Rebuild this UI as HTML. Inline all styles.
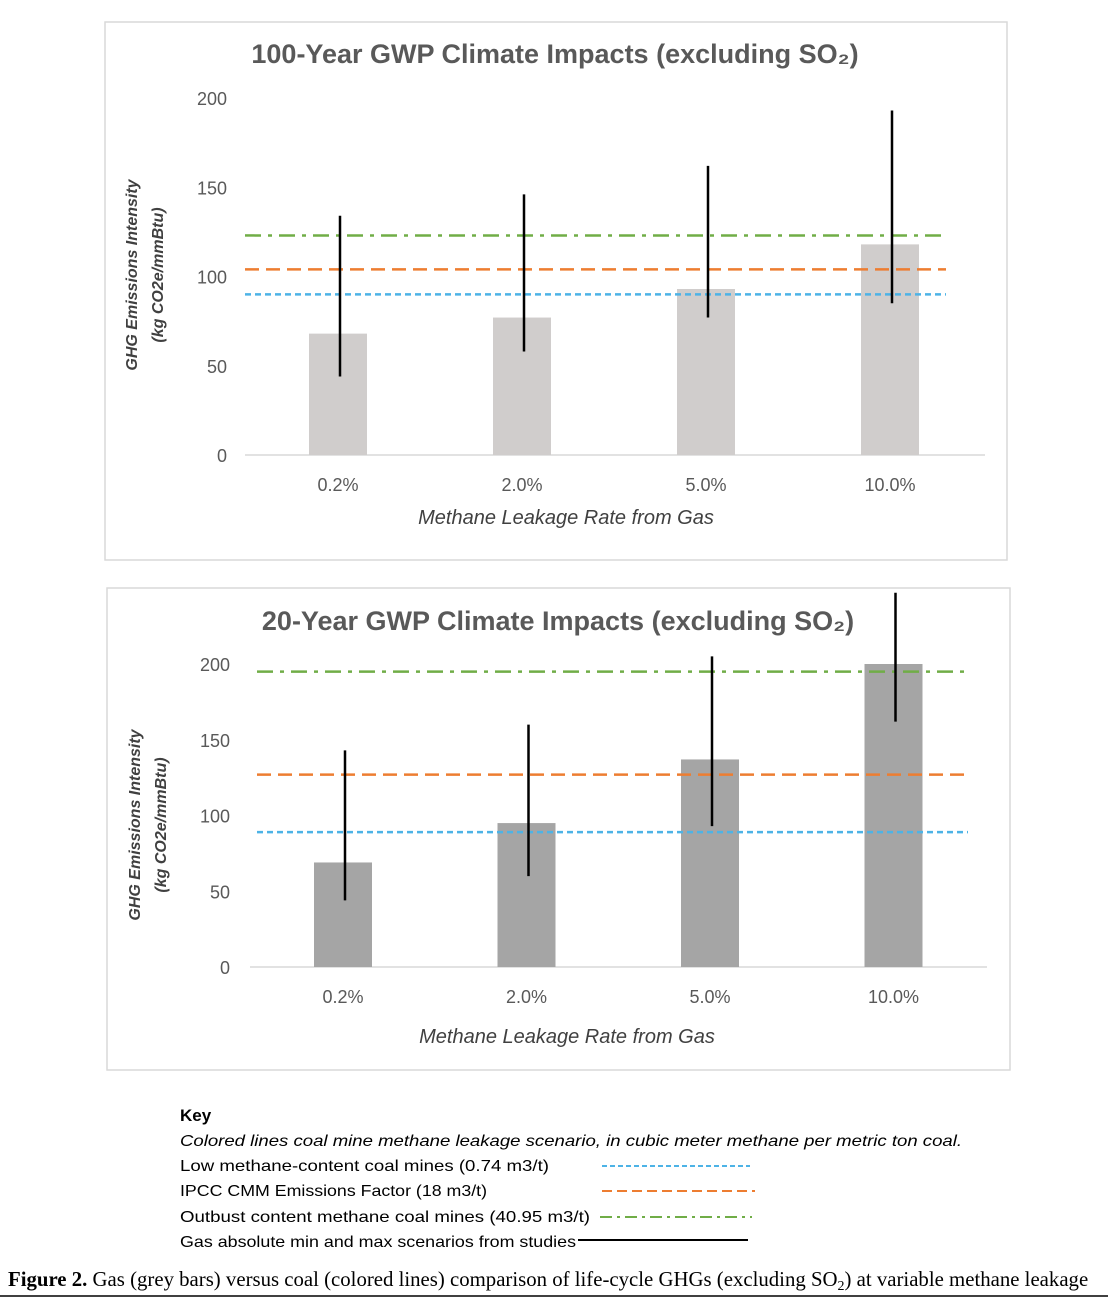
<!DOCTYPE html>
<html><head><meta charset="utf-8"><style>
body{margin:0;background:#fff;width:1108px;height:1298px;overflow:hidden;font-family:"Liberation Sans",sans-serif}
svg{display:block}
</style></head><body>
<svg id="fig" width="1108" height="1298" xmlns="http://www.w3.org/2000/svg">
<rect x="105" y="22" width="902" height="538" fill="#fff" stroke="#d9d9d9" stroke-width="1.5"/>
<rect x="107" y="588" width="903" height="482" fill="#fff" stroke="#d9d9d9" stroke-width="1.5"/>
<text x="555" y="63" text-anchor="middle" font-size="27" font-weight="bold" fill="#595959">100-Year GWP Climate Impacts (excluding SO₂)</text>
<text x="558" y="630" text-anchor="middle" font-size="27" font-weight="bold" fill="#595959">20-Year GWP Climate Impacts (excluding SO₂)</text>
<text x="566" y="524" text-anchor="middle" font-size="20" font-style="italic" fill="#404040">Methane Leakage Rate from Gas</text>
<text x="567" y="1043" text-anchor="middle" font-size="20" font-style="italic" fill="#404040">Methane Leakage Rate from Gas</text>
<text transform="translate(137,275) rotate(-90)" text-anchor="middle" font-size="16" font-weight="bold" font-style="italic" fill="#404040"><tspan x="0" dy="0">GHG Emissions Intensity</tspan><tspan x="0" dy="26">(kg CO2e/mmBtu)</tspan></text>
<text transform="translate(140,825) rotate(-90)" text-anchor="middle" font-size="16" font-weight="bold" font-style="italic" fill="#404040"><tspan x="0" dy="0">GHG Emissions Intensity</tspan><tspan x="0" dy="26">(kg CO2e/mmBtu)</tspan></text>
<g id="top"></g>
<g id="bot"></g>
<g font-size="16" fill="#000">
<text x="180" y="1121" font-size="17" font-weight="bold">Key</text>
<text x="180" y="1146" font-style="italic" textLength="782" lengthAdjust="spacingAndGlyphs">Colored lines coal mine methane leakage scenario, in cubic meter methane per metric ton coal.</text>
<text x="180" y="1171" textLength="369" lengthAdjust="spacingAndGlyphs">Low methane-content coal mines (0.74 m3/t)</text>
<text x="180" y="1196" textLength="307" lengthAdjust="spacingAndGlyphs">IPCC CMM Emissions Factor (18 m3/t)</text>
<text x="180" y="1222" textLength="410" lengthAdjust="spacingAndGlyphs">Outbust content methane coal mines (40.95 m3/t)</text>
<text x="180" y="1247" textLength="396" lengthAdjust="spacingAndGlyphs">Gas absolute min and max scenarios from studies</text>
<line x1="602" y1="1166" x2="750" y2="1166" stroke="#4db3e6" stroke-width="2" stroke-dasharray="5,3"/>
<line x1="602" y1="1191" x2="755" y2="1191" stroke="#ed7d31" stroke-width="2" stroke-dasharray="10,5"/>
<line x1="600" y1="1217" x2="752" y2="1217" stroke="#70ad47" stroke-width="2" stroke-dasharray="12,5,3,5"/>
<line x1="578" y1="1240" x2="748" y2="1240" stroke="#000" stroke-width="2"/>
</g>
<text x="8" y="1286" font-family="Liberation Serif,serif" font-size="20.8" fill="#000"><tspan font-weight="bold">Figure 2.</tspan> Gas (grey bars) versus coal (colored lines) comparison of life-cycle GHGs (excluding SO<tspan font-size="14" dy="4">2</tspan><tspan dy="-4">) at variable methane leakage</tspan></text>
<line x1="0" y1="1296" x2="1108" y2="1296" stroke="#000" stroke-width="1.5"/>
</svg>
<script>
const categories=["0.2%","2.0%","5.0%","10.0%"];
const yTicks=[0,50,100,150,200];
const gwp100Bars=[68,77,93,118];
const gwp100Min=[44,58,77,85];
const gwp100Max=[134,146,162,193];
const gwp100Lines=[90,104,123];
const gwp20Bars=[69,95,137,200];
const gwp20Min=[44,60,93,162];
const gwp20Max=[143,160,205,247];
const gwp20Lines=[89,127,195];
const NS="http://www.w3.org/2000/svg";
function mk(g,tag,a){const e=document.createElementNS(NS,tag);for(const k in a)e.setAttribute(k,a[k]);g.appendChild(e);return e;}
function draw(id,cfg){
 const g=document.getElementById(id);
 const y=v=>cfg.y0-v*cfg.ys;
 const x=i=>cfg.x0+i*cfg.dx;
 yTicks.forEach(t=>{const e=mk(g,"text",{x:cfg.tx,y:y(t)+7,"text-anchor":"end","font-size":18,fill:"#595959"});e.textContent=t;
  
  });
 const ax=mk(g,"line",{x1:cfg.ax1,x2:cfg.ax2,y1:cfg.y0,y2:cfg.y0,stroke:"#d9d9d9","stroke-width":1.5});
 
 
 categories.forEach((c,i)=>{
  const b=mk(g,"rect",{x:x(i)-29,y:y(cfg.bars[i]),width:58,height:cfg.bars[i]*cfg.ys,fill:cfg.fill});
  
  
  const t=mk(g,"text",{x:x(i),y:cfg.y0+36,"text-anchor":"middle","font-size":18,fill:"#595959"});t.textContent=c;
  
  
 });
 const styles=[["#4db3e6","6,4"],["#ed7d31","14,7"],["#70ad47","16,7,4,7"]];
 cfg.lines.forEach((v,i)=>{const l=mk(g,"line",{x1:cfg.l1,x2:cfg.l2,y1:y(v),y2:y(v),stroke:styles[i][0],"stroke-width":2.5,"stroke-dasharray":styles[i][1]});
  
  });
 categories.forEach((c,i)=>{const e=mk(g,"line",{x1:x(i)+2,x2:x(i)+2,y1:y(cfg.mx[i]),y2:y(cfg.mn[i]),stroke:"#000","stroke-width":2.5});
  
  });
}
draw("top",{y0:455,ys:1.785,x0:338,dx:184,tx:227,ax1:245,ax2:985,l1:245,l2:946,bars:gwp100Bars,mn:gwp100Min,mx:gwp100Max,lines:gwp100Lines,fill:"#d0cdcc"});
draw("bot",{y0:967,ys:1.515,x0:343,dx:183.5,tx:230,ax1:250,ax2:987,l1:257,l2:968,bars:gwp20Bars,mn:gwp20Min,mx:gwp20Max,lines:gwp20Lines,fill:"#a5a5a5"});
</script>
</body></html>
